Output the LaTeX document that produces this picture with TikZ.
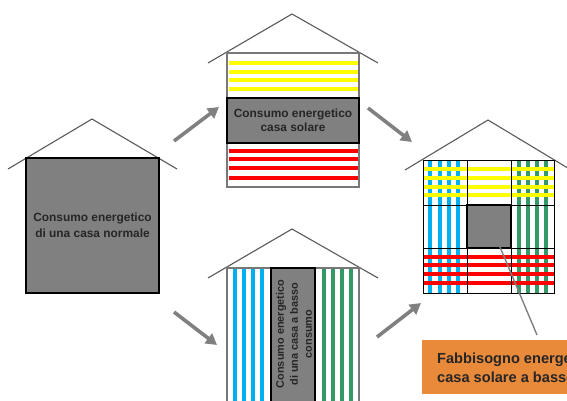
\documentclass[tikz,border=0pt]{standalone}
\usepackage{fontspec}
\setmainfont{Liberation Sans}
\usetikzlibrary{arrows.meta}
\definecolor{boxgray}{RGB}{128,128,128}
\definecolor{roofgray}{RGB}{90,90,90}
\definecolor{wallgray}{RGB}{120,120,120}
\definecolor{arrowgray}{RGB}{128,128,128}
\definecolor{sunyellow}{RGB}{255,255,0}
\definecolor{heatred}{RGB}{255,0,0}
\definecolor{coolblue}{RGB}{0,176,240}
\definecolor{leafgreen}{RGB}{51,153,102}
\definecolor{calloutorange}{RGB}{233,137,58}
\definecolor{inktext}{RGB}{38,38,38}
\begin{document}
\begin{tikzpicture}[x=1pt,y=-1pt,
  roof/.style={draw=roofgray,line width=1.1pt},
  wall/.style={draw=wallgray,line width=1.1pt,inner sep=0pt,outer sep=0pt},
  core/.style={draw=black,fill=boxgray,line width=2pt,inner sep=0pt,outer sep=0pt,
    text=inktext,font=\bfseries\fontsize{11.5}{15}\selectfont,align=center},
  ystripe/.style={draw=sunyellow,line width=3.6pt},
  rstripe/.style={draw=heatred,line width=3.4pt},
  bstripe/.style={draw=coolblue,line width=3.2pt},
  gstripe/.style={draw=leafgreen,line width=3.2pt},
  gridline/.style={draw=black,line width=0.8pt},
  flow/.style={draw=arrowgray,line width=3.6pt,-{Triangle[length=11pt,width=12pt]}},
  pointer/.style={draw=arrowgray,line width=1.4pt},
  callout/.style={fill=calloutorange,inner sep=0pt,outer sep=0pt}]
\useasboundingbox (0,0) rectangle (567,400);
\clip (0,0) rectangle (567,400);

% ---------- House 1 : normal house ----------
\draw[roof] (8,169) -- (92,119) -- (177,169);
\node[core,minimum width=133pt,minimum height=135pt,
  font=\bfseries\fontsize{11.9}{16}\selectfont] (h1) at (92.5,225.5)
  {Consumo energetico\\di una casa normale};

% ---------- House 2 : solar house ----------
\draw[roof] (208,63) -- (292,14) -- (378,63);
\node[wall,minimum width=132pt,minimum height=134pt] (h2) at (293,120) {};
\foreach \yy in {63,72,80,89}{\draw[ystripe] (228.5,\yy) -- (357.5,\yy);}
\foreach \yy in {151,159,168,178}{\draw[rstripe] (228.5,\yy) -- (357.5,\yy);}
\node[core,minimum width=132pt,minimum height=45pt,
  font=\bfseries\fontsize{11.9}{14.3}\selectfont] (c2) at (293,120.5)
  {Consumo energetico\\casa solare};

% ---------- House 4 : low-energy house ----------
\draw[roof] (208,278) -- (292,229) -- (378,278);
\node[wall,minimum width=132pt,minimum height=150pt] (h4) at (293,343) {};
\foreach \xx in {235,244,253,262}{\draw[bstripe] (\xx,269) -- (\xx,412);}
\foreach \xx in {324,333,342,351}{\draw[gstripe] (\xx,269) -- (\xx,412);}
\node[core,minimum width=44pt,minimum height=150pt] (c4) at (293,343) {};
\node[rotate=90,text=inktext,align=center,inner sep=0pt,
  font=\bfseries\fontsize{10.9}{14}\selectfont] (t4) at (294,334)
  {Consumo energetico\\di una casa a basso\\consumo};

% ---------- House 3 : solar low-energy house ----------
\draw[roof] (405,170) -- (488,120) -- (571,170);
\node[wall,draw=black,line width=0.8pt,minimum width=131pt,minimum height=133pt] (h3) at (488.5,226.5) {};
\foreach \xx in {430,440,449,458}{\draw[bstripe] (\xx,160.5) -- (\xx,292.5);}
\foreach \xx in {519,528,537,546}{\draw[gstripe] (\xx,160.5) -- (\xx,292.5);}
\foreach \yy in {169,178,187,195}{\draw[ystripe] (423.5,\yy) -- (553.5,\yy);}
\foreach \yy in {257,265,274,283}{\draw[rstripe] (423.5,\yy) -- (553.5,\yy);}
\draw[gridline] (467,160) -- (467,293) (511,160) -- (511,293)
  (423,205) -- (554,205) (423,248) -- (554,248);
\draw[black,line width=0.8pt] (423,160) rectangle (554,293);
\node[core,minimum width=44pt,minimum height=43pt] (c3) at (489,226.5) {};

% ---------- callout ----------
\node[callout,minimum width=180pt,minimum height=54pt,anchor=north west] (note) at (422,340) {};
\node[anchor=west,inner sep=0pt,align=left,text=inktext,
  font=\bfseries\fontsize{14.6}{18.5}\selectfont] (notetext) at (437,368)
  {Fabbisogno energetico\\casa solare a basso consumo};
\coordinate (pstart) at (500,247);
\coordinate (pend) at (537,335);
\draw[pointer] (pstart) -- (pend);

% ---------- flow arrows ----------
\coordinate (a1s) at (174,141); \coordinate (a1e) at (219,107);
\coordinate (a2s) at (368,108); \coordinate (a2e) at (412,142);
\coordinate (a3s) at (174,312); \coordinate (a3e) at (217,345);
\coordinate (a4s) at (377,337); \coordinate (a4e) at (421,303);
\draw[flow] (a1s) -- (a1e);
\draw[flow] (a2s) -- (a2e);
\draw[flow] (a3s) -- (a3e);
\draw[flow] (a4s) -- (a4e);
\end{tikzpicture}
\end{document}
